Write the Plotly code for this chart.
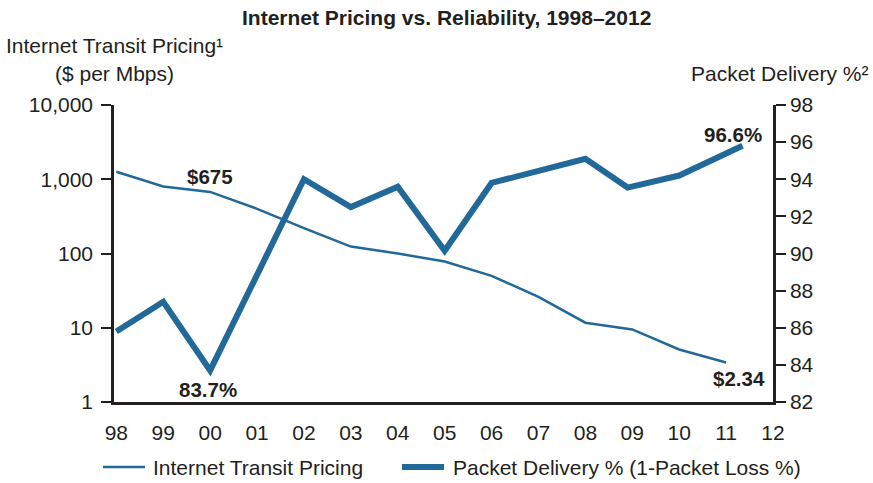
import plotly.graph_objects as go

year_labels = ["98", "99", "00", "01", "02", "03", "04", "05", "06", "07", "08", "09", "10", "11", "12"]
year_pos = list(range(len(year_labels)))

price_x = [0, 1, 2, 3, 4, 5, 6, 7, 8, 9, 10, 11, 12, 13]
price_vals = [1260, 800, 675, 400, 220, 124, 100, 78, 50, 26, 11.7, 9.5, 5.1, 3.4]

packet_x = [0, 1, 2, 4, 5, 6, 7, 8, 10, 10.9, 12, 13.35]
packet_vals = [85.8, 87.4, 83.7, 94.0, 92.5, 93.6, 90.15, 93.8, 95.1, 93.55, 94.2, 95.8]

left_ticks = [1, 10, 100, 1000, 10000]
left_ticktext = ["1", "10", "100", "1,000", "10,000"]
right_ticks = [82, 84, 86, 88, 90, 92, 94, 96, 98]

series_names = ["Internet Transit Pricing", "Packet Delivery % (1-Packet Loss %)"]

BLUE = "#22699a"
INK = "#231f20"
FONT = "Liberation Sans, Arial, sans-serif"
FS = 21

L, R, T, B = 114, 773, 105, 402
PW, PH = R - L, B - T


def px(xp):
    return (xp - L) / PW


def py(yp):
    return (B - yp) / PH


fig = go.Figure()
fig.add_trace(go.Scatter(x=price_x, y=price_vals, mode="lines", name=series_names[0],
                         line=dict(color=BLUE, width=2.5), yaxis="y"))
fig.add_trace(go.Scatter(x=packet_x, y=packet_vals, mode="lines", name=series_names[1],
                         line=dict(color=BLUE, width=6), yaxis="y2"))

fig.update_layout(
    width=873, height=483,
    margin=dict(l=L, r=873 - R, t=T, b=483 - B),
    paper_bgcolor="white", plot_bgcolor="white",
    font=dict(family=FONT, size=FS, color=INK),
    showlegend=False,
    xaxis=dict(range=[-0.05, 14.0], tickvals=year_pos, ticktext=year_labels,
               showgrid=False, zeroline=False, showline=True, linecolor=INK, linewidth=2.5,
               ticks="", tickfont=dict(size=FS, color=INK), automargin=False,
               ticklabelstandoff=10),
    yaxis=dict(type="log", range=[0, 4], tickvals=left_ticks, ticktext=left_ticktext,
               showgrid=False, zeroline=False, showline=True, linecolor=INK, linewidth=2.5,
               ticks="outside", ticklen=10, tickwidth=1.5, tickcolor=INK,
               tickfont=dict(size=FS, color=INK), automargin=False, ticklabelstandoff=4),
    yaxis2=dict(overlaying="y", side="right", range=[82, 98], tickvals=right_ticks,
                showgrid=False, zeroline=False, showline=True, linecolor=INK, linewidth=2.5,
                ticks="outside", ticklen=10, tickwidth=1.5, tickcolor=INK,
                tickfont=dict(size=FS, color=INK), automargin=False),
)

# legend (drawn manually)
fig.add_shape(type="line", xref="paper", yref="paper", x0=px(103), x1=px(145), y0=py(467), y1=py(467),
              line=dict(color=BLUE, width=2.5))
fig.add_shape(type="line", xref="paper", yref="paper", x0=px(402), x1=px(444), y0=py(467), y1=py(467),
              line=dict(color=BLUE, width=6))

annos = [
    dict(text="<b>Internet Pricing vs. Reliability, 1998–2012</b>", x=px(446), y=py(18),
         xanchor="center", font=dict(size=FS)),
    dict(text="Internet Transit Pricing¹", x=px(4), y=py(46), xanchor="left", font=dict(size=FS)),
    dict(text="($ per Mbps)", x=px(114), y=py(73), xanchor="center", font=dict(size=FS)),
    dict(text="Packet Delivery %²", x=px(870), y=py(73), xanchor="right", font=dict(size=FS)),
    dict(text=series_names[0], x=px(151), y=py(467), xanchor="left", font=dict(size=FS)),
    dict(text=series_names[1], x=px(451), y=py(467), xanchor="left", font=dict(size=FS)),
]
for a in annos:
    a.update(xref="paper", yref="paper", yanchor="middle", showarrow=False)
    fig.add_annotation(**a)

labels = [
    dict(text="<b>$675</b>", x=2.0, y=py(176)),
    dict(text="<b>83.7%</b>", x=1.95, y=py(389)),
    dict(text="<b>96.6%</b>", x=13.15, y=py(134)),
    dict(text="<b>$2.34</b>", x=13.28, y=py(378)),
]
for a in labels:
    a.update(xref="x", yref="paper", xanchor="center", yanchor="middle", showarrow=False,
             font=dict(size=20.5))
    fig.add_annotation(**a)

fig.write_html("out.html", config={"displayModeBar": False},
               post_script="document.body.style.margin='0';document.body.style.overflow='hidden';")
